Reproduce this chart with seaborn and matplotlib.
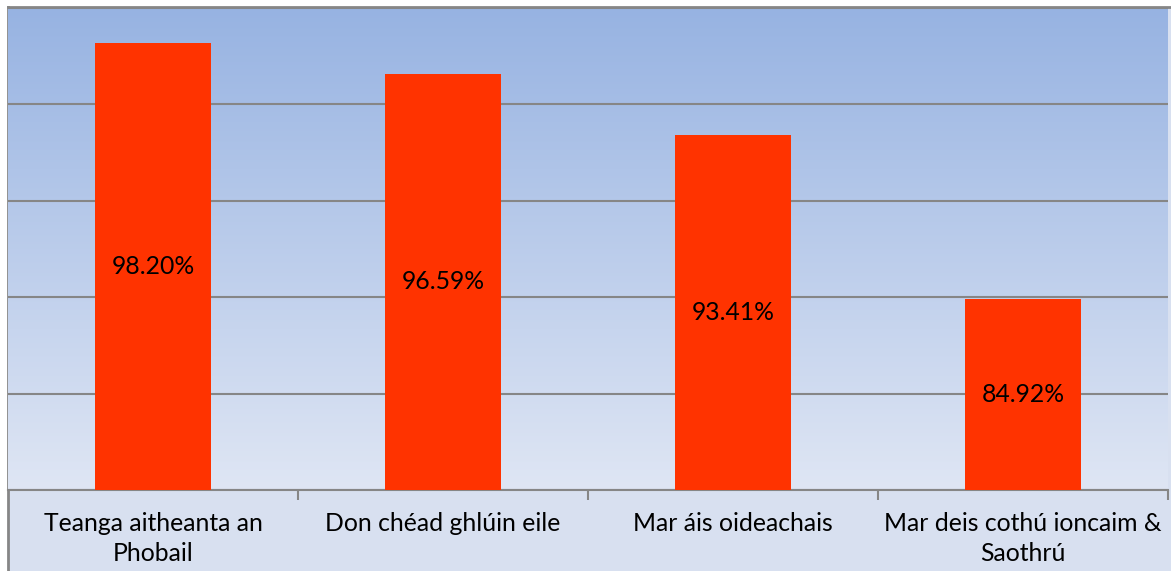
# Irish survey bar chart - recreation

import numpy as np
import pandas as pd
import matplotlib
matplotlib.use('Agg')
import matplotlib.pyplot as plt
from matplotlib.colors import LinearSegmentedColormap
import seaborn as sns

############################
# DATA
############################
categories = ['Teanga aitheanta an\nPhobail', 'Don chéad ghlúin eile',
              'Mar áis oideachais', 'Mar deis cothú ioncaim &\nSaothrú']
values = [98.20, 96.59, 93.41, 84.92]
y_ticks = [75, 80, 85, 90, 95, 100]

df = pd.DataFrame({'cat': categories, 'val': values})

############################
# PLOT
############################
sns.set_style('white')
plt.rcParams['font.family'] = ['Lato', 'DejaVu Sans']

W, H = 1171, 571
fig = plt.figure(figsize=(W / 100, H / 100), dpi=100)
fig.patch.set_facecolor('white')

grid_col = '#868686'

# chart area (cropped frame, only left + top border visible)
bg = fig.add_axes([8 / W, 0, 1 - 8 / W, (H - 7) / H])
bg.set_facecolor('#D8E0F0')
bg.set_xticks([])
bg.set_yticks([])
for s in ['right', 'bottom']:
    bg.spines[s].set_visible(False)
for s in ['left', 'top']:
    bg.spines[s].set_color(grid_col)
    bg.spines[s].set_linewidth(2)

# plot area
ax = fig.add_axes([8 / W, (H - 490) / H, (1168 - 8) / W, (490 - 8) / H])
ax.set_facecolor('none')

grad = LinearSegmentedColormap.from_list('g', ['#97B3E2', '#DFE6F4'])
ax.imshow(np.linspace(0, 1, 256).reshape(-1, 1), cmap=grad, aspect='auto',
          extent=[-0.5, 3.5, 75, 100], origin='upper', zorder=0)

sns.barplot(data=df, x='cat', y='val', color='#FF3300', width=0.4,
            saturation=1, linewidth=0, edgecolor='none', ax=ax, zorder=3)

ax.set_xlim(-0.5, 3.5)
ax.set_ylim(75, 100)
ax.set_yticks(y_ticks)
ax.set_yticklabels([])
ax.tick_params(axis='y', length=0)
ax.grid(axis='y', color=grid_col, linewidth=1.5, zorder=1)
ax.set_axisbelow(True)

ax.set_xlabel('')
ax.set_ylabel('')
ax.tick_params(axis='x', which='major', bottom=True, length=0, pad=16,
               labelsize=17.8, labelcolor='black')
ax.set_xticks([0.5, 1.5, 2.5, 3.5], minor=True)
ax.tick_params(axis='x', which='minor', bottom=True, direction='out',
               length=7, width=1.5, color=grid_col)
for lbl in ax.get_xticklabels():
    lbl.set_linespacing(1.38)

for s in ['top', 'right', 'left']:
    ax.spines[s].set_visible(False)
ax.spines['bottom'].set_color(grid_col)
ax.spines['bottom'].set_linewidth(1.5)

# value labels in the middle of each bar
for i, v in enumerate(values):
    ax.text(i, (v + y_ticks[0]) / 2, f'{v:.2f}%', ha='center', va='center',
            fontsize=17.8, color='black', zorder=4)

fig.savefig('out.png', dpi=100)
